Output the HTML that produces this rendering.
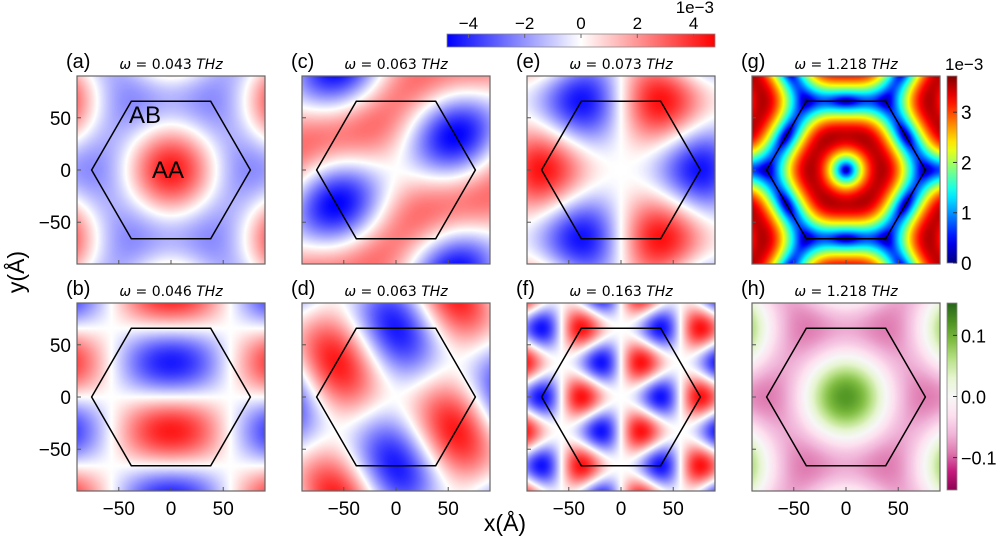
<!DOCTYPE html>
<html><head><meta charset="utf-8">
<style>
html,body{margin:0;padding:0;background:#fff;}
#wrap{position:relative;width:1000px;height:539px;overflow:hidden;font-family:"Liberation Sans","DejaVu Sans",sans-serif;}
canvas{position:absolute;}
svg{position:absolute;left:0;top:0;}
</style></head>
<body>
<div id="wrap">
<svg id="ov" width="1000" height="539"></svg>
</div>
<script>
// ---- data ----
const panelIds = ['a','b','c','d','e','f','g','h'];
const panelFreqs = ['0.043','0.046','0.063','0.063','0.073','0.163','1.218','1.218'];
const panelModes = ['cosSum','gradY','quadC','quadD','sin3','sin3x2','gradMag','shiftCos'];
const panelScales = [0.3, 0.45, 0.25, 0.45, 0.36, 0.36, 0.95, 0.046];
const panelOffsets = [0,0,0,0,0,0,0,-0.02];
const recipAngles = [0, 60, 120];
const hexVertices = [[76,0],[38,65.8],[-38,65.8],[-76,0],[-38,-65.8],[38,-65.8]];
const axisTicks = [-50, 0, 50];
const topCbTicks = [-4,-2,0,2,4];
const jetCbTicks = [0,1,2,3];
const piygCbTicks = [0.1,0.0,-0.1];
const piygCbLabels = ['0.1','0.0','\u22120.1'];

// ---- layout ----
const colX = [77,302,527,752], rowY = [76,303], PW=188, RANGE=90;
const G = 4*Math.PI/(Math.sqrt(3)*131.6);
function gv(deg,m){const a=deg*Math.PI/180;return [m*G*Math.cos(a),m*G*Math.sin(a)];}
function field(mode,x,y){
  const g0=gv(0,1),g1=gv(60,1),g2=gv(120,1);
  const d=(g,xx,yy)=>g[0]*xx+g[1]*yy;
  switch(mode){
    case 'cosSum':case 'shiftCos': return recipAngles.reduce((s,a)=>{const g=gv(a,1);return s+Math.cos(d(g,x,y));},0);
    case 'gradY': return -(Math.sin(d(g1,x,y))+Math.sin(d(g2,x,y)));
    case 'quadC': return Math.cos(d(g0,x,y))+Math.cos(d(g1,x,y))-2*Math.cos(d(g2,x,y));
    case 'quadD': return Math.cos(d(g1,x,y))-Math.cos(d(g0,x,y));
    case 'sin3': return [0,120,240].reduce((s,a)=>s+Math.sin(d(gv(a,1),x,y)),0);
    case 'sin3x2': return [0,120,240].reduce((s,a)=>s+Math.sin(d(gv(a,2),x,y)),0);
    case 'gradMag': {let gx=0,gy=0;recipAngles.forEach(a=>{const g=gv(a,1);const s=Math.sin(d(g,x,y));gx+=g[0]/G*s;gy+=g[1]/G*s;});return Math.hypot(gx,gy);}
  }
}
function bwr(v){v=Math.max(-1,Math.min(1,v));return v<0?[255*(1+v),255*(1+v),255]:[255,255*(1-v),255*(1-v)];}
function jet(v){v=Math.max(0,Math.min(1,v));const c=t=>Math.max(0,Math.min(1,1.5-Math.abs(4*v-t)));return [255*c(3),255*c(2),255*c(1)];}
const piygStops=[[142,1,82],[197,27,125],[222,119,174],[241,182,218],[253,224,239],[247,247,247],[230,245,208],[184,225,134],[127,188,65],[77,146,33],[39,100,25]];
function piyg(v){v=Math.max(-1,Math.min(1,v));const t=(v+1)/2*10;const i=Math.min(9,Math.floor(t)),f=t-i;const a=piygStops[i],b=piygStops[i+1];return a.map((c,k)=>c+(b[k]-c)*f);}

const wrap=document.getElementById('wrap');
const ov=document.getElementById('ov');
const NS='http://www.w3.org/2000/svg';
function el(tag,attrs,txt){const e=document.createElementNS(NS,tag);for(const k in attrs)e.setAttribute(k,attrs[k]);if(txt!==undefined)e.textContent=txt;ov.appendChild(e);return e;}

let gmax=0;
for(let j=0;j<PW;j++)for(let i=0;i<PW;i++){const v=field('gradMag',-RANGE+(i+0.5)*180/PW,RANGE-(j+0.5)*180/PW);if(v>gmax)gmax=v;}

panelIds.forEach((id,p)=>{
  const col=Math.floor(p/2), row=p%2;
  const x0=colX[col], y0=rowY[row];
  const cv=document.createElement('canvas');
  cv.width=PW;cv.height=PW;cv.style.left=x0+'px';cv.style.top=y0+'px';
  
  
  wrap.insertBefore(cv,ov);
  const ctx=cv.getContext('2d');const img=ctx.createImageData(PW,PW);
  const mode=panelModes[p];
  for(let j=0;j<PW;j++)for(let i=0;i<PW;i++){
    const x=-RANGE+(i+0.5)*180/PW, y=RANGE-(j+0.5)*180/PW;
    let v=field(mode,x,y), c;
    if(mode==='gradMag') c=jet(v/gmax*panelScales[p]);
    else if(mode==='shiftCos') c=piyg((v*panelScales[p]+panelOffsets[p])/0.153);
    else c=bwr(v*panelScales[p]);
    const k=(j*PW+i)*4;img.data[k]=c[0];img.data[k+1]=c[1];img.data[k+2]=c[2];img.data[k+3]=255;
  }
  ctx.putImageData(img,0,0);
  const sx=x=>x0+PW/2+x*PW/180, sy=y=>y0+PW/2-y*PW/180;
  const hx=el('polygon',{points:hexVertices.map(v=>sx(v[0])+','+sy(v[1])).join(' '),fill:'none',stroke:'#000','stroke-width':1.5});
  
  const fr=el('rect',{x:x0,y:y0,width:PW,height:PW,fill:'none',stroke:'#666','stroke-width':1.2});
  
  axisTicks.forEach(t=>{
    el('line',{x1:sx(t),x2:sx(t),y1:y0+PW,y2:y0+PW-4,stroke:'#555','stroke-width':1});
    el('line',{x1:x0,x2:x0+4,y1:sy(t),y2:sy(t),stroke:'#555','stroke-width':1});
    if(row===1){const tl=el('text',{x:sx(t),y:y0+PW+24,'font-size':19,'text-anchor':'middle'},t<0?'\u2212'+(-t):String(t));
      }
    if(col===0){const tl=el('text',{x:x0-6,y:sy(t)+7,'font-size':19,'text-anchor':'end'},t<0?'\u2212'+(-t):String(t));
      }
  });
  const lb=el('text',{x:x0-11,y:y0-8,'font-size':20},'('+id+')');
  
  const tt=el('text',{x:x0+PW/2,y:y0-7,'font-size':14,'text-anchor':'middle','font-family':'DejaVu Sans, sans-serif'});
  
  const t1=document.createElementNS(NS,'tspan');t1.setAttribute('font-style','italic');t1.textContent='\u03c9';tt.appendChild(t1);
  const t2=document.createElementNS(NS,'tspan');t2.textContent=' = '+panelFreqs[p]+' ';tt.appendChild(t2);
  const t3=document.createElementNS(NS,'tspan');t3.setAttribute('font-style','italic');t3.textContent='THz';tt.appendChild(t3);
});
let t=el('text',{x:129,y:123,'font-size':24},'AB');
t=el('text',{x:152,y:178,'font-size':24},'AA');
t=el('text',{x:0,y:0,'font-size':23,'text-anchor':'middle',transform:'translate(24,272) rotate(-90)'},'y(\u00c5)');
t=el('text',{x:505,y:531,'font-size':23,'text-anchor':'middle'},'x(\u00c5)');

const defs=el('defs',{});
function grad(id,fn,vertical){const g=document.createElementNS(NS,'linearGradient');g.setAttribute('id',id);
  if(vertical){g.setAttribute('x1','0');g.setAttribute('y1','1');g.setAttribute('x2','0');g.setAttribute('y2','0');}
  for(let i=0;i<=20;i++){const s=document.createElementNS(NS,'stop');const c=fn(i/20);s.setAttribute('offset',(i*5)+'%');s.setAttribute('stop-color','rgb('+c.map(Math.round).join(',')+')');g.appendChild(s);}
  defs.appendChild(g);}
grad('gbwr',u=>bwr(u*2-1),false);grad('gjet',u=>jet(u),true);grad('gpiyg',u=>piyg(u*2-1),true);
const cbx0=447,cbx1=715,cbVmax=4.76;
t=el('rect',{x:cbx0,y:34,width:cbx1-cbx0,height:13,fill:'url(#gbwr)',stroke:'#888','stroke-width':0.8});
topCbTicks.forEach(v=>{const x=(cbx0+cbx1)/2+v/cbVmax*(cbx1-cbx0)/2;
  el('line',{x1:x,x2:x,y1:34,y2:38,stroke:'#666'});
  const l=el('text',{x:x,y:29,'font-size':17,'text-anchor':'middle'},v<0?'\u2212'+(-v):String(v));});
t=el('text',{x:714,y:13,'font-size':17,'text-anchor':'end'},'1e\u22123');
const jx=947,jy0=76,jy1=263,jVmax=3.72;
t=el('rect',{x:jx,y:jy0,width:10,height:jy1-jy0,fill:'url(#gjet)',stroke:'#888','stroke-width':0.8});
jetCbTicks.forEach(v=>{const y=jy1-v/jVmax*(jy1-jy0);
  el('line',{x1:jx+6,x2:jx+10,y1:y,y2:y,stroke:'#333'});
  const l=el('text',{x:961,y:y+7,'font-size':19},String(v));});
t=el('text',{x:945,y:70,'font-size':17},'1e\u22123');
const py0=303,py1=490,pV=0.153;
t=el('rect',{x:jx,y:py0,width:10,height:py1-py0,fill:'url(#gpiyg)',stroke:'#888','stroke-width':0.8});
piygCbTicks.forEach((v,i)=>{const y=(py0+py1)/2-v/pV*(py1-py0)/2;
  el('line',{x1:jx+6,x2:jx+10,y1:y,y2:y,stroke:'#333'});
  const l=el('text',{x:961,y:y+7,'font-size':18},piygCbLabels[i]);});
</script>
</body></html>
